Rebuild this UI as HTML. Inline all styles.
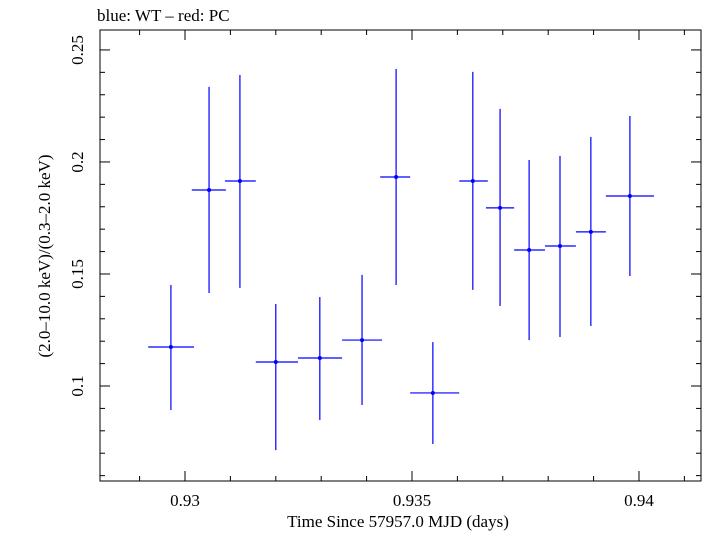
<!DOCTYPE html>
<html><head><meta charset="utf-8"><style>
body{margin:0;background:#fff}
svg text{font-family:"Liberation Serif",serif;fill:#000}
</style></head><body>
<svg id="chart" width="705" height="532" xmlns="http://www.w3.org/2000/svg">
<text x="97" y="21" font-size="17">blue: WT – red: PC</text>
<g id="axes"></g>
<g id="series"></g>
<text x="398" y="527" font-size="17" text-anchor="middle">Time Since 57957.0 MJD (days)</text>
<text transform="translate(50,256) rotate(-90)" font-size="17" text-anchor="middle">(2.0–10.0 keV)/(0.3–2.0 keV)</text>
</svg>
<script>
const xVals=[0.92969,0.93053,0.93121,0.93200,0.93297,0.93390,0.93465,0.93546,0.93634,0.93694,0.93758,0.93826,0.93894,0.93980];
const xLow=[0.92919,0.93015,0.93088,0.93156,0.93249,0.93346,0.93430,0.93496,0.93604,0.93663,0.93725,0.93793,0.93861,0.93927];
const xHigh=[0.93020,0.93090,0.93156,0.93249,0.93346,0.93434,0.93496,0.93604,0.93667,0.93725,0.93793,0.93861,0.93927,0.94033];
const yVals=[0.1174,0.1875,0.1915,0.1107,0.1125,0.1205,0.1933,0.0969,0.1915,0.1795,0.1607,0.1625,0.1688,0.1848];
const yHigh=[0.1451,0.2335,0.2388,0.1366,0.1397,0.1496,0.2415,0.1196,0.2402,0.2237,0.2009,0.2027,0.2112,0.2205];
const yLow=[0.0893,0.1415,0.1438,0.0714,0.0848,0.0915,0.1451,0.0741,0.1429,0.1357,0.1205,0.1219,0.1268,0.1491];
const xTicks=[0.93,0.935,0.94];
const xTickLabels=["0.93","0.935","0.94"];
const yTicks=[0.1,0.15,0.2,0.25];
const yTickLabels=["0.1","0.15","0.2","0.25"];
const X0=0.928128,X1=0.941366,Y0=0.0576,Y1=0.2589;
const L=100,R=701,T=30,B=481;
const sx=v=>L+(v-X0)/(X1-X0)*(R-L);
const sy=v=>B-(v-Y0)/(Y1-Y0)*(B-T);
const NS="http://www.w3.org/2000/svg";
function mk(tag,attrs,parent){const e=document.createElementNS(NS,tag);for(const k in attrs)e.setAttribute(k,attrs[k]);parent.appendChild(e);return e;}
const ax=document.getElementById('axes');
const frame=mk('rect',{x:L,y:T,width:R-L,height:B-T,fill:'none',stroke:'#000','stroke-width':1},ax);


// minor x ticks
for(let i=Math.ceil(X0/0.001);i*0.001<=X1;i++){const v=i*0.001,px=sx(v);const maj=xTicks.some(t=>Math.abs(t-v)<1e-9);const len=maj?10:5;
const t1=mk('line',{x1:px,x2:px,y1:B,y2:B-len,stroke:'#000'},ax);
const t2=mk('line',{x1:px,x2:px,y1:T,y2:T+len,stroke:'#000'},ax);}
for(let i=Math.ceil(Y0/0.01);i*0.01<=Y1;i++){const v=i*0.01,py=sy(v);const maj=yTicks.some(t=>Math.abs(t-v)<1e-9);const len=maj?10:5;
const t1=mk('line',{x1:L,x2:L+len,y1:py,y2:py,stroke:'#000'},ax);
const t2=mk('line',{x1:R,x2:R-len,y1:py,y2:py,stroke:'#000'},ax);}
xTicks.forEach((v,i)=>{const t=mk('text',{x:sx(v),y:506,'font-size':17,'text-anchor':'middle'},ax);t.textContent=xTickLabels[i];
});
yTicks.forEach((v,i)=>{const t=mk('text',{transform:`translate(83,${sy(v)}) rotate(-90)`,'font-size':17,'text-anchor':'middle'},ax);t.textContent=yTickLabels[i];
});
const sg=document.getElementById('series');
xVals.forEach((x,i)=>{const g=mk('g',{},sg);


mk('line',{x1:sx(xLow[i]),x2:sx(xHigh[i]),y1:sy(yVals[i]),y2:sy(yVals[i]),stroke:'#0000ff','stroke-width':1.2},g);
mk('line',{x1:sx(x),x2:sx(x),y1:sy(yLow[i]),y2:sy(yHigh[i]),stroke:'#0000ff','stroke-width':1.2},g);
mk('circle',{cx:sx(x),cy:sy(yVals[i]),r:2,fill:'#0000ff'},g);});
</script>
</body></html>
